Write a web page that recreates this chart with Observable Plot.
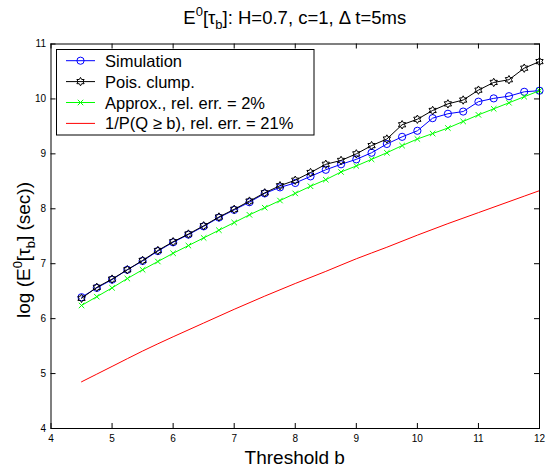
<!DOCTYPE html>
<html><head><meta charset="utf-8">
<script src="https://cdn.jsdelivr.net/npm/d3@7"></script>
<script src="https://cdn.jsdelivr.net/npm/@observablehq/plot@0.6"></script>
<style>
body{margin:0;background:#fff}
svg{font-family:"Liberation Sans",Arial,Helvetica,sans-serif}
</style>
</head><body><div id="chart"></div>
<script>
// ---- data ----
const thresholds = [4.5,4.75,5,5.25,5.5,5.75,6,6.25,6.5,6.75,7,7.25,7.5,7.75,8,8.25,8.5,8.75,9,9.25,9.5,9.75,10,10.25,10.5,10.75,11,11.25,11.5,11.75,12];
const simulation = [6.39,6.56,6.71,6.89,7.05,7.23,7.39,7.53,7.68,7.84,7.98,8.12,8.28,8.39,8.47,8.59,8.71,8.81,8.90,9.02,9.18,9.31,9.42,9.65,9.73,9.77,9.95,10.01,10.05,10.13,10.15];
const poisClump  = [6.37,6.57,6.72,6.89,7.06,7.24,7.40,7.54,7.69,7.85,7.99,8.14,8.29,8.42,8.52,8.66,8.81,8.88,9.00,9.15,9.27,9.53,9.63,9.79,9.91,9.98,10.16,10.30,10.35,10.56,10.68];
const approx     = [6.24,6.40,6.56,6.73,6.89,7.04,7.19,7.33,7.47,7.61,7.75,7.89,8.02,8.15,8.28,8.41,8.53,8.67,8.78,8.90,9.02,9.15,9.27,9.37,9.47,9.59,9.71,9.82,9.93,10.04,10.15];
const tailB      = [4.5,5,5.5,6,6.5,7,7.5,8,8.5,9,9.5,10,10.5,11,11.5,12];
const tailVals   = [4.85,5.13,5.41,5.67,5.92,6.17,6.41,6.64,6.86,7.09,7.30,7.52,7.73,7.93,8.13,8.33];
const xTicks = [4,5,6,7,8,9,10,11,12];
const yTicks = [4,5,6,7,8,9,10,11];
const seriesNames = ["Simulation","Pois. clump.","Approx., rel. err. = 2%","1/P(Q \u2265 b), rel. err. = 21%"];
const seriesColors = ["#0000ff","#000000","#00ff00","#ff0000"];

// ---- tables ----
const simData = thresholds.map((b,i)=>({b, v: simulation[i]}));
const poisData = thresholds.map((b,i)=>({b, v: poisClump[i]}));
const approxData = thresholds.map((b,i)=>({b, v: approx[i]}));
const tailData = tailB.map((b,i)=>({b, v: tailVals[i]}));

const hexagram = {draw(ctx, size){
  const R = Math.sqrt(size/Math.PI), r = R/Math.sqrt(3);
  for(let i=0;i<12;i++){
    const a = Math.PI/2 + i*Math.PI/6, rr = i%2 ? r : R;
    const x = rr*Math.cos(a), y = -rr*Math.sin(a);
    if(i) ctx.lineTo(x,y); else ctx.moveTo(x,y);
  }
  ctx.closePath();
}};

const W=550, H=471, mL=50.5, mR=11, mT=43.5, mB=43;
const plotH = H-mT-mB, plotW = W-mL-mR, tk = 5;

const chart = Plot.plot({
  width: W, height: H,
  marginLeft: mL, marginRight: mR, marginTop: mT, marginBottom: mB,
  style: {fontFamily: "Liberation Sans, Arial, Helvetica, sans-serif", fontSize: "10px", color: "black", background: "white"},
  x: {domain: [4,12]},
  y: {domain: [4,11]},
  marks: [
    Plot.axisX({ticks: xTicks, anchor: "bottom", tickSize: 0, tickPadding: 6, label: null, tickFormat: d=>String(d)}),
    Plot.axisY({ticks: yTicks, anchor: "left", tickSize: 0, tickPadding: 5, label: null, tickFormat: d=>String(d)}),
    Plot.tickX(xTicks, {x: d=>d, insetTop: plotH-tk, stroke: "black"}),
    Plot.tickX(xTicks, {x: d=>d, insetBottom: plotH-tk, stroke: "black"}),
    Plot.tickY(yTicks, {y: d=>d, insetRight: plotW-tk, stroke: "black"}),
    Plot.tickY(yTicks, {y: d=>d, insetLeft: plotW-tk, stroke: "black"}),
    Plot.line(simData, {x: "b", y: "v", stroke: seriesColors[0], strokeWidth: 1}),
    Plot.dot(simData, {x: "b", y: "v", stroke: seriesColors[0], r: 3.6, strokeWidth: 1}),
    Plot.line(poisData, {x: "b", y: "v", stroke: seriesColors[1], strokeWidth: 1}),
    Plot.dot(poisData, {x: "b", y: "v", stroke: seriesColors[1], symbol: hexagram, r: 4.2, strokeWidth: 1}),
    Plot.line(approxData, {x: "b", y: "v", stroke: seriesColors[2], strokeWidth: 1}),
    Plot.dot(approxData, {x: "b", y: "v", stroke: seriesColors[2], symbol: "times", r: 2.6, strokeWidth: 1}),
    Plot.line(tailData, {x: "b", y: "v", stroke: seriesColors[3], strokeWidth: 1, curve: "monotone-x"}),
    Plot.frame({stroke: "black", strokeWidth: 1})
  ]
});
document.getElementById("chart").appendChild(chart);

// ---- texts and legend ----
const svg = d3.select(chart);
const cx = mL + plotW/2;
const title = svg.append("text").attr("x", cx).attr("y", 24).attr("text-anchor","middle").attr("font-size", 18.5).attr("fill","black");
title.append("tspan").text("E");
title.append("tspan").attr("font-size", 13).attr("dy", -8).text("0");
title.append("tspan").attr("dy", 8).text("[\u03c4");
title.append("tspan").attr("font-size", 13).attr("dy", 5).text("b");
title.append("tspan").attr("dy", -5).text("]: H=0.7, c=1, \u0394 t=5ms");

svg.append("text").attr("x", cx).attr("y", 464).attr("text-anchor","middle").attr("font-size", 19).attr("fill","black").text("Threshold b");

const yl = svg.append("text").attr("transform", "translate(30,250) rotate(-90)").attr("text-anchor","middle").attr("font-size", 19).attr("fill","black");
yl.append("tspan").text("log (E");
yl.append("tspan").attr("font-size", 13).attr("dy", -8).text("0");
yl.append("tspan").attr("dy", 8).text("[\u03c4");
yl.append("tspan").attr("font-size", 13).attr("dy", 5).text("b");
yl.append("tspan").attr("dy", -5).text("] (sec))");

const lg = svg.append("g");
lg.append("rect").attr("x", 56.5).attr("y", 49.5).attr("width", 257.5).attr("height", 85.5).attr("fill","white").attr("stroke","black");
const symbols = [d3.symbolCircle, hexagram, d3.symbolTimes, null];
const sizes = [Math.PI*3.6*3.6, Math.PI*4.2*4.2, Math.PI*2.6*2.6, 0];
seriesNames.forEach((name, i) => {
  const yy = 60.7 + i*20.9;
  lg.append("line").attr("x1", 66).attr("x2", 95).attr("y1", yy).attr("y2", yy).attr("stroke", seriesColors[i]).attr("stroke-width", 1);
  if (symbols[i]) lg.append("path").attr("transform", `translate(80.5,${yy})`).attr("d", d3.symbol(symbols[i], sizes[i])()).attr("fill","none").attr("stroke", seriesColors[i]).attr("stroke-width", 1);
  lg.append("text").attr("x", 105).attr("y", yy+6).attr("text-anchor","start").attr("font-size", 16.5).attr("fill","black").text(name);
});
</script>
</body></html>
